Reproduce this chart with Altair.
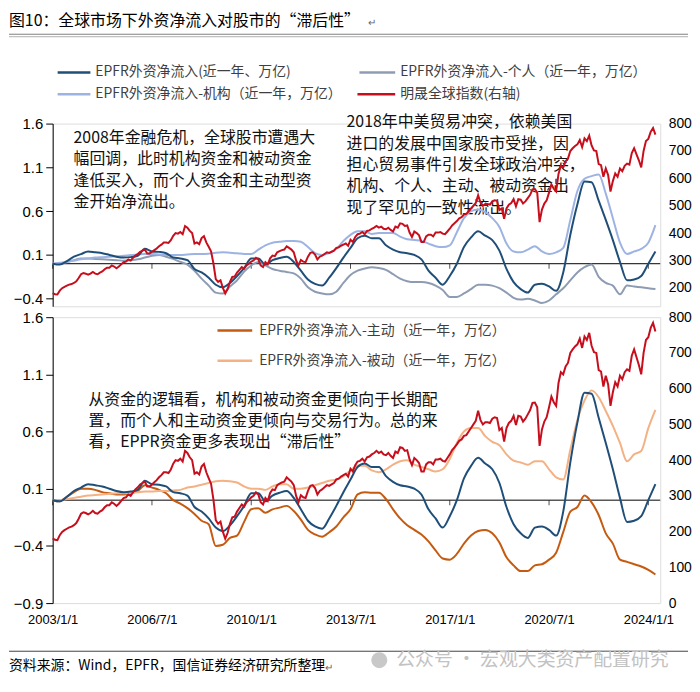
import altair as alt
import pandas as pd

CJK = "Noto Sans CJK SC"
NUM = "Liberation Sans"

# ---------------- data ----------------
quarter_t = [2003 + 0.25 * i for i in range(86)]      # 2003Q1 ... 2024Q2
month_t = [2003 + i / 12 for i in range(256)]          # 2003-01 ... 2024-04

epfr_total = [
    0.00, -0.01, 0.03, 0.08,
    0.11, 0.14, 0.13, 0.12,
    0.10, 0.08, 0.07, 0.075,
    0.09, 0.17, 0.14, 0.135,
    0.12, 0.07, 0.06, 0.04,
    -0.06, -0.10, -0.16, -0.24,
    -0.27, -0.22, -0.14, -0.05,
    0.06, 0.06, -0.01, 0.04,
    0.065, 0.08, 0.02, -0.08,
    -0.18, -0.23, -0.25, -0.16,
    -0.05, 0.07, 0.18, 0.29,
    0.32, 0.29, 0.29, 0.21,
    0.16, 0.13, 0.12, 0.10,
    0.05, -0.08, -0.16, -0.24,
    -0.14, 0.00, 0.19, 0.30,
    0.37, 0.32, 0.27, 0.15,
    -0.06, -0.21, -0.29, -0.33,
    -0.24, -0.23, -0.26, -0.31,
    -0.10, 0.33, 0.68, 0.94,
    0.93, 0.72, 0.50, 0.27,
    0.02, -0.19, -0.18, -0.14,
    0.00, 0.14,
]

epfr_individual = [
    0.00, 0.00, 0.02, 0.04,
    0.06, 0.06, 0.055, 0.05,
    0.045, 0.04, 0.035, 0.04,
    0.05, 0.07, 0.09, 0.10,
    0.08, 0.055, 0.02, -0.01,
    -0.08, -0.17, -0.25, -0.33,
    -0.34, -0.26, -0.19, -0.09,
    -0.02, 0.02, -0.02, -0.06,
    -0.08, -0.095, -0.11, -0.17,
    -0.27, -0.32, -0.34, -0.35,
    -0.32, -0.22, -0.13, -0.08,
    -0.055, -0.04, -0.05, -0.07,
    -0.12, -0.17, -0.20, -0.21,
    -0.21, -0.22, -0.25, -0.30,
    -0.38, -0.38, -0.34, -0.29,
    -0.24, -0.24, -0.25, -0.28,
    -0.33, -0.39, -0.41, -0.40,
    -0.42, -0.45, -0.42, -0.35,
    -0.28, -0.19, -0.10, -0.04,
    -0.01, -0.15, -0.22, -0.25,
    -0.35, -0.25, -0.26, -0.27,
    -0.28, -0.29,
]

epfr_institution = [
    0.00, 0.01, 0.02, 0.035,
    0.05, 0.06, 0.07, 0.075,
    0.08, 0.085, 0.09, 0.10,
    0.105, 0.11, 0.11, 0.105,
    0.10, 0.10, 0.10, 0.105,
    0.11, 0.11, 0.115, 0.125,
    0.13, 0.125, 0.12, 0.11,
    0.11, 0.16, 0.21, 0.24,
    0.25, 0.26, 0.26, 0.25,
    0.19, 0.12, 0.10, 0.12,
    0.17, 0.26, 0.33, 0.37,
    0.37, 0.34, 0.35, 0.35,
    0.35, 0.31, 0.28, 0.27,
    0.26, 0.23, 0.20, 0.19,
    0.21, 0.36, 0.52, 0.60,
    0.62, 0.59, 0.52, 0.42,
    0.23, 0.14, 0.13, 0.16,
    0.20, 0.14, 0.11, 0.13,
    0.18, 0.50, 0.83, 0.97,
    1.00, 1.02, 0.80, 0.52,
    0.24, 0.11, 0.14, 0.17,
    0.24, 0.44,
]

epfr_active = [
    0.00, -0.01, 0.03, 0.07,
    0.10, 0.10, 0.09, 0.07,
    0.06, 0.05, 0.05, 0.06,
    0.08, 0.13, 0.11, 0.09,
    0.06, 0.00, -0.03, -0.07,
    -0.12, -0.18, -0.21, -0.40,
    -0.39, -0.33, -0.31, -0.19,
    -0.08, -0.07, -0.11, -0.08,
    -0.065, -0.05, -0.095, -0.17,
    -0.26, -0.30, -0.32, -0.28,
    -0.23, -0.15, -0.08, 0.05,
    0.07, 0.065, 0.065, 0.01,
    -0.08, -0.16, -0.22, -0.26,
    -0.30, -0.36, -0.44, -0.51,
    -0.52, -0.47, -0.38, -0.31,
    -0.27, -0.26, -0.29, -0.37,
    -0.50, -0.57, -0.62, -0.62,
    -0.57, -0.56, -0.52, -0.46,
    -0.28, -0.10, -0.06, 0.04,
    -0.02, -0.13, -0.29, -0.38,
    -0.52, -0.54, -0.56, -0.58,
    -0.61, -0.65,
]

epfr_passive = [
    0.00, 0.00, 0.01, 0.02,
    0.03, 0.04, 0.045, 0.05,
    0.055, 0.06, 0.06, 0.065,
    0.07, 0.075, 0.075, 0.08,
    0.08, 0.085, 0.09, 0.11,
    0.12, 0.135, 0.15, 0.165,
    0.17, 0.165, 0.155, 0.12,
    0.10, 0.10, 0.09, 0.12,
    0.14, 0.14, 0.10, 0.10,
    0.11, 0.13, 0.15, 0.17,
    0.18, 0.21, 0.26, 0.30,
    0.30, 0.26, 0.245, 0.27,
    0.31, 0.34, 0.35, 0.31,
    0.29, 0.27, 0.25, 0.27,
    0.36, 0.50, 0.60, 0.63,
    0.63, 0.56, 0.51, 0.48,
    0.40, 0.345, 0.33, 0.31,
    0.34, 0.34, 0.27, 0.20,
    0.18, 0.44, 0.70, 0.87,
    0.96, 0.90, 0.78, 0.65,
    0.50, 0.34, 0.40, 0.43,
    0.63, 0.79,
]

msci_acwi = [
    181, 177, 176, 190, 199, 204, 208, 212, 214, 218, 224, 236,
    250, 254, 252, 248, 252, 258, 252, 250, 256, 260, 268, 274,
    274, 282, 278, 272, 278, 286, 294, 296, 304, 300, 310, 318,
    324, 332, 336, 340, 326, 326, 332, 338, 344, 352, 358, 366,
    366, 364, 374, 390, 400, 398, 404, 396, 426, 420, 408, 400,
    362, 366, 360, 382, 389, 366, 350, 334, 290, 232, 222, 228,
    200, 180, 196, 222, 240, 242, 256, 266, 276, 270, 282, 288,
    296, 300, 310, 304, 282, 276, 294, 286, 308, 318, 316, 330,
    334, 338, 340, 352, 346, 340, 330, 300, 282, 302, 296, 294,
    314, 328, 330, 322, 304, 314, 318, 324, 330, 328, 332, 336,
    346, 348, 354, 358, 362, 354, 376, 368, 386, 396, 398, 404,
    396, 408, 410, 416, 420, 426, 420, 424, 416, 414, 420, 412,
    406, 424, 420, 436, 434, 426, 428, 402, 386, 406, 400, 392,
    368, 368, 388, 394, 394, 388, 402, 402, 404, 398, 396, 406,
    416, 428, 436, 444, 454, 458, 468, 470, 480, 490, 500, 510,
    538, 512, 500, 506, 506, 504, 516, 520, 518, 484, 490, 452,
    490, 504, 510, 524, 498, 524, 522, 508, 516, 528, 540, 560,
    561, 548, 440, 486, 508, 520, 548, 578, 562, 552, 616, 646,
    640, 662, 672, 700, 710, 718, 724, 740, 714, 746, 736, 756,
    720, 702, 700, 652, 648, 606, 636, 612, 552, 590, 618, 606,
    636, 626, 646, 654, 650, 692, 710, 688, 666, 640, 700, 736,
    744, 770, 784, 760,
]

tick_years = [2003, 2006.5, 2010, 2013.5, 2017, 2020.5, 2024]
top_left_ticks = [-0.4, 0.1, 0.6, 1.1, 1.6]
top_right_ticks = [200, 300, 400, 500, 600, 700, 800]
bot_left_ticks = [-0.9, -0.4, 0.1, 0.6, 1.1, 1.6]
bot_right_ticks = [0, 100, 200, 300, 400, 500, 600, 700, 800]

flows = pd.DataFrame({
    "t": quarter_t,
    "total": epfr_total,
    "individual": epfr_individual,
    "institution": epfr_institution,
    "active": epfr_active,
    "passive": epfr_passive,
})
msci = pd.DataFrame({"t": month_t, "msci": msci_acwi})
ticks_df = pd.DataFrame({"t": tick_years})
ONE = pd.DataFrame({"k": [0]})

# ---------------- style ----------------
C_TOTAL = "#1F4E79"
C_IND = "#8E9CB3"
C_INST = "#9DB3E3"
C_RED = "#C70E1C"
C_ACT = "#C55A11"
C_PAS = "#F4B183"
C_LEG = "#3f3f3f"

W, H1, H2 = 612, 184, 288
xs = alt.Scale(domain=[2003, 2024.42], nice=False, zero=False)


def txt(s, x, y, size=14, color="#000", font=CJK, align="left", baseline="middle"):
    return alt.Chart(ONE).mark_text(
        text=s, align=align, baseline=baseline, fontSize=size, color=color, font=font
    ).encode(x=alt.value(x), y=alt.value(y))


def hline(x1, x2, y, color, width, opacity=1):
    return alt.Chart(ONE).mark_rule(color=color, strokeWidth=width, opacity=opacity).encode(
        x=alt.value(x1), x2=alt.value(x2), y=alt.value(y)
    )


def panel(lines, red_scale, red_axis, l_scale, l_axis, xenc, extras, height):
    def yl(f):
        return alt.Y(f"{f}:Q", scale=l_scale, axis=l_axis)
    zero = alt.Chart(ONE).mark_rule(color="#000", strokeWidth=1).encode(
        y=alt.YDatum(0, scale=l_scale, axis=l_axis, type="quantitative")
    )
    tks = alt.Chart(ticks_df).mark_tick(
        orient="vertical", size=5, thickness=1, color="#000", yOffset=2.5
    ).encode(x=xenc, y=alt.YDatum(0, scale=l_scale, axis=l_axis, type="quantitative"))
    series = [
        alt.Chart(flows).mark_line(color=c, strokeWidth=2, interpolate="monotone").encode(
            x=xenc, y=yl(f)
        )
        for f, c in lines
    ]
    left = alt.layer(zero, tks, *series)
    red = alt.Chart(msci).mark_line(color=C_RED, strokeWidth=2).encode(
        x=xenc, y=alt.Y("msci:Q", scale=red_scale, axis=red_axis)
    )
    return alt.layer(*extras, left, red).resolve_scale(y="independent").properties(
        width=W, height=height
    )


# ---------------- top panel ----------------
tl_scale = alt.Scale(domain=[-0.486, 1.6], nice=False, zero=False)
tr_scale = alt.Scale(domain=[133, 800], nice=False, zero=False)
tl_axis = alt.Axis(orient="left", values=top_left_ticks, format=".1f", tickSize=7,
                   tickColor="#000", domainColor="#000", labelFontSize=15, labelPadding=3,
                   labelColor="#000", labelFont=NUM, grid=False, title=None)
tr_axis = alt.Axis(orient="right", values=top_right_ticks, domain=False, ticks=False,
                   labelPadding=8, labelFontSize=14, labelColor="#000", labelFont=NUM,
                   grid=False, title=None)
xt = alt.X("t:Q", scale=xs, axis=None)

top_extras = [
    hline(-44, 640, -113, "#ffffff", 1, opacity=0),   # invisible anchor for the top edge
    txt("图10：全球市场下外资净流入对股市的“滞后性”", -44, -103.5, size=16),
    txt("↵", 318, -101, size=10, color="#666"),
    hline(-44, 640, -90, "#808080", 1),
    hline(-44, 640, -87.5, "#b0b0b0", 1),
    hline(5, 38, -51.5, C_TOTAL, 2.5),
    txt("EPFR外资净流入(近一年、万亿)", 43, -51.5, color=C_LEG),
    hline(309, 345, -51.5, C_IND, 2.5),
    txt("EPFR外资净流入-个人（近一年，万亿）", 350, -51.5, color=C_LEG),
    hline(5, 38, -29.5, C_INST, 2.5),
    txt("EPFR外资净流入-机构（近一年，万亿）", 43, -29.5, color=C_LEG),
    hline(307, 345, -29.5, C_RED, 2.5),
    txt("明晟全球指数(右轴)", 350, -29.5, color=C_LEG),
]
for i, s in enumerate([
    "2008年金融危机，全球股市遭遇大",
    "幅回调，此时机构资金和被动资金",
    "逢低买入，而个人资金和主动型资",
    "金开始净流出。",
]):
    top_extras.append(txt(s, 21, 14.5 + 21.5 * i, size=16, color="#111"))
for i, s in enumerate([
    "2018年中美贸易冲突，依赖美国",
    "进口的发展中国家股市受挫，因",
    "担心贸易事件引发全球政治冲突，",
    "机构、个人、主动、被动资金出",
    "现了罕见的一致性流出。",
]):
    top_extras.append(txt(s, 296, -1.5 + 21.6 * i, size=16, color="#111"))

top = panel(
    [("individual", C_IND), ("institution", C_INST), ("total", C_TOTAL)],
    tr_scale, tr_axis, tl_scale, tl_axis, xt, top_extras, H1,
)

# ---------------- bottom panel ----------------
bl_scale = alt.Scale(domain=[-0.9, 1.6], nice=False, zero=False)
br_scale = alt.Scale(domain=[0, 800], nice=False, zero=False)
bl_axis = alt.Axis(orient="left", values=bot_left_ticks, format=".1f", tickSize=7,
                   tickColor="#000", domainColor="#000", labelFontSize=15, labelPadding=3,
                   labelColor="#000", labelFont=NUM, grid=False, title=None)
br_axis = alt.Axis(orient="right", values=bot_right_ticks, domain=False, ticks=False,
                   labelPadding=8, labelFontSize=14, labelColor="#000", labelFont=NUM,
                   grid=False, title=None)
xb_axis = alt.Axis(orient="bottom", values=tick_years,
                   labelExpr="floor(datum.value) + (datum.value % 1 == 0 ? '/1/1' : '/7/1')",
                   domain=False, ticks=False, grid=False, labelFlush=False, labelOverlap=False,
                   labelPadding=11, labelFontSize=13, labelColor="#000", labelFont=NUM, title=None)
xb = alt.X("t:Q", scale=xs, axis=xb_axis)

bot_extras = [
    hline(166, 201, 13.5, C_ACT, 2.5),
    txt("EPFR外资净流入-主动（近一年，万亿）", 208, 13.5, color=C_LEG),
    hline(166, 201, 44, C_PAS, 2.5),
    txt("EPFR外资净流入-被动（近一年，万亿）", 208, 44, color=C_LEG),
    hline(-44, 640, 336.5, "#444", 1),
    txt("资料来源：Wind，EPFR，国信证券经济研究所整理", -44, 351.5, size=14),
    txt("↵", 274, 353, size=10, color="#666"),
    alt.Chart(ONE).mark_point(shape="circle", filled=True, size=260, color="#c8c8c8",
                              opacity=1).encode(x=alt.value(329), y=alt.value(345.5)),
    txt("公众号 · 宏观大类资产配置研究", 346, 345.5, size=19, color="#c2c2c2"),
]
for i, s in enumerate([
    "从资金的逻辑看，机构和被动资金更倾向于长期配",
    "置，而个人和主动资金更倾向与交易行为。总的来",
    "看，EPPR资金更多表现出“滞后性”",
]):
    bot_extras.append(txt(s, 36, 83.5 + 21 * i, size=16, color="#111"))

bottom = panel(
    [("active", C_ACT), ("passive", C_PAS), ("total", C_TOTAL)],
    br_scale, br_axis, bl_scale, bl_axis, xb, bot_extras, H2,
)

chart = alt.vconcat(top, bottom, spacing=11, bounds="flush", padding=0).configure_view(
    stroke=None
).configure(background="white")

chart.save("out.html", embed_options={"renderer": "svg", "actions": False})
